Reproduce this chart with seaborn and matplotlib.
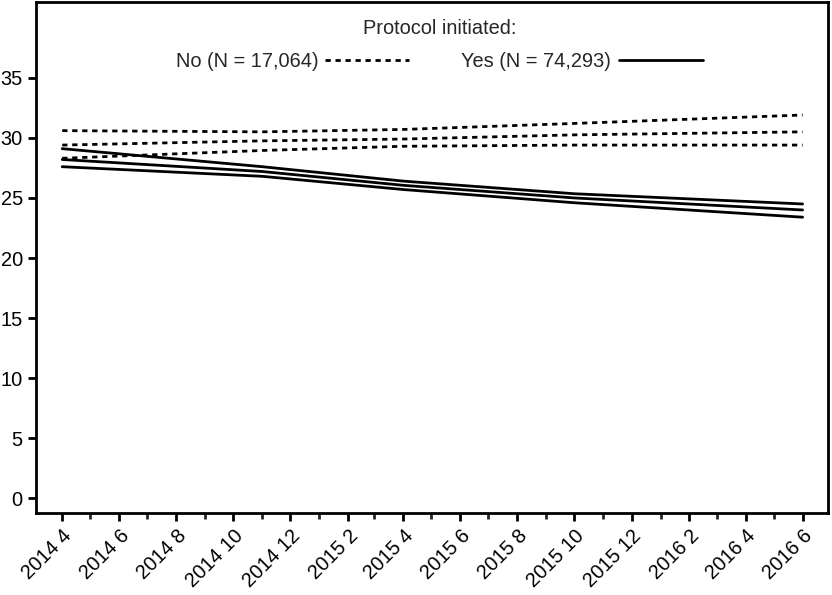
import matplotlib
matplotlib.use('Agg')
import matplotlib.pyplot as plt
import matplotlib.dates as mdates
from matplotlib.lines import Line2D
import pandas as pd
import seaborn as sns

# values at a few months (regression line + CI bounds)
dates = pd.to_datetime(['2014-04-01', '2014-11-01', '2015-04-01', '2015-10-01', '2016-06-01'])
no_upper = [30.6, 30.5, 30.7, 31.2, 31.9]
no_mid = [29.4, 29.75, 29.9, 30.25, 30.5]
no_lower = [28.3, 28.95, 29.3, 29.4, 29.4]
yes_upper = [29.1, 27.6, 26.4, 25.35, 24.5]
yes_mid = [28.2, 27.2, 26.05, 25.0, 24.0]
yes_lower = [27.6, 26.8, 25.7, 24.6, 23.4]
labels = ['No (N = 17,064)', 'Yes (N = 74,293)']
title = 'Protocol initiated:'

sns.set_style('ticks')
plt.rcParams['font.family'] = ['Liberation Sans', 'DejaVu Sans']
fs = 14.4

fig = plt.figure(figsize=(8.32, 5.95), dpi=100)
ax = fig.add_axes([0.0433, 0.138, 0.9517, 0.8586])

for vals in [no_upper, no_mid, no_lower]:
    sns.lineplot(x=dates, y=vals, ax=ax, color='black', linewidth=2)
    ax.lines[-1].set_dashes([1.9, 1.7])
for vals in [yes_upper, yes_mid, yes_lower]:
    sns.lineplot(x=dates, y=vals, ax=ax, color='black', linewidth=2)

ax.set_ylim(-1.2, 41.3)
ax.set_yticks(range(0, 36, 5))
ax.set_xlim(pd.Timestamp('2014-03-04'), pd.Timestamp('2016-06-28'))
ax.xaxis.set_major_locator(mdates.MonthLocator(bymonth=[2, 4, 6, 8, 10, 12]))
ax.xaxis.set_minor_locator(mdates.MonthLocator())
ax.xaxis.set_major_formatter(mdates.DateFormatter('%Y %-m'))
ax.tick_params(axis='both', which='major', length=6, width=2, labelsize=fs, colors='black')
ax.tick_params(axis='x', which='minor', length=4, width=2)
for lab in ax.get_xticklabels():
    lab.set_rotation(45)
    lab.set_ha('right')
    lab.set_rotation_mode('anchor')
for s in ax.spines.values():
    s.set_linewidth(2)
    s.set_color('black')
ax.set_xlabel('')
ax.set_ylabel('')

h_no = Line2D([], [], color='black', linewidth=2, dashes=[1.9, 1.7])
h_yes = Line2D([], [], color='black', linewidth=2)
ax.legend([h_no, h_yes], labels, ncol=2,
          frameon=False, markerfirst=False, handlelength=4.2,
          handletextpad=0.36, columnspacing=2.6, fontsize=fs,
          loc='center', bbox_to_anchor=(0.509, 0.883))
ax.text(0.51, 0.949, title, transform=ax.transAxes, ha='center', va='center', fontsize=fs)

fig.savefig('out.png', dpi=100)
